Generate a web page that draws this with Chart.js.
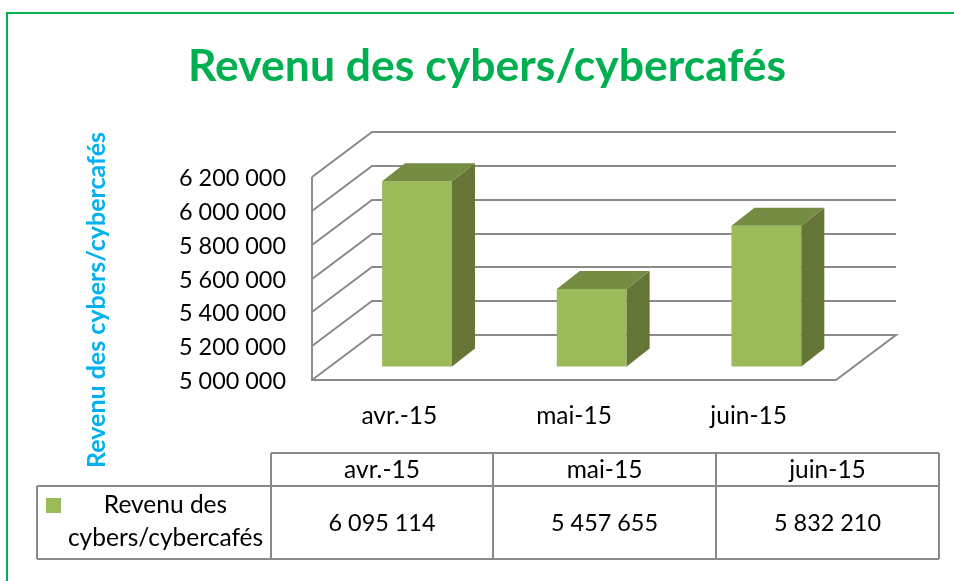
<!DOCTYPE html>
<html lang="fr">
<head>
<meta charset="utf-8">
<title>Revenu des cybers/cybercafés</title>
<script src="https://cdn.jsdelivr.net/npm/chart.js@4"></script>
<style>
  html, body { margin: 0; padding: 0; background: #fff; overflow: hidden; }
  #wrap { width: 954px; height: 581px; }
</style>
</head>
<body>
<div id="wrap"><canvas id="chart" width="954" height="581"></canvas></div>
<script>
// Data
const titleText = "Revenu des cybers/cybercafés";
const seriesName = ["Revenu des", "cybers/cybercafés"];
const categories = ["avr.-15", "mai-15", "juin-15"];
const revenue = [6095114, 5457655, 5832210];
const revenueLabels = ["6 095 114", "5 457 655", "5 832 210"];
const tickValues = [5000000, 5200000, 5400000, 5600000, 5800000, 6000000, 6200000];
const tickLabels = ["5 000 000", "5 200 000", "5 400 000", "5 600 000", "5 800 000", "6 000 000", "6 200 000"];

const FONT = "Lato, 'Noto Sans', sans-serif";
const GREEN = "#00B050";
const CYAN = "#00B0F0";
const GRID = "#8a8a8a";
const INK = "#000";
const BAR_FRONT = "#9BBB59";
const BAR_TOP = "#758D42";
const BAR_SIDE = "#647535";

// fake 3D: depth of the floor and of the bars
const WALL = { dx: 60, dy: -45 };
const BAR_SHIFT = { dx: 17.7, dy: -13.5 };
const BAR_DEPTH = { dx: 23, dy: -18 };

function poly(ctx, pts, color) {
  ctx.fillStyle = color;
  ctx.beginPath();
  pts.forEach((p, i) => i ? ctx.lineTo(p[0], p[1]) : ctx.moveTo(p[0], p[1]));
  ctx.closePath();
  ctx.fill();
}

function label(ctx, text, x, y, font, color) {
  ctx.font = font;
  ctx.fillStyle = color;
  ctx.textAlign = "center";
  ctx.textBaseline = "middle";
  ctx.fillText(text, x, y);
}

const box3d = {
  id: "box3d",
  beforeDatasetsDraw(chart) {
    const { ctx, chartArea: a, scales: { y } } = chart;
    ctx.save();
    ctx.strokeStyle = GRID;
    ctx.lineWidth = 2;
    tickValues.forEach(v => {
      const py = Math.round(y.getPixelForValue(v));
      ctx.beginPath();
      if (v === tickValues[0]) {
        ctx.moveTo(a.left, py);
        ctx.lineTo(a.right, py);
        ctx.lineTo(a.right + WALL.dx, py + WALL.dy);
        ctx.lineTo(a.left + WALL.dx, py + WALL.dy);
      } else {
        ctx.moveTo(a.right + WALL.dx, py + WALL.dy);
        ctx.lineTo(a.left + WALL.dx, py + WALL.dy);
      }
      ctx.lineTo(a.left, py);
      ctx.stroke();
    });
    ctx.beginPath();
    ctx.moveTo(a.left, a.bottom + 1);
    ctx.lineTo(a.left, a.top);
    ctx.stroke();
    ctx.restore();
    // the real bars are drawn shifted back onto the floor
    ctx.save();
    ctx.translate(BAR_SHIFT.dx, BAR_SHIFT.dy);
  },
  afterDatasetsDraw(chart) {
    const { ctx } = chart;
    chart.getDatasetMeta(0).data.forEach(bar => {
      const l = bar.x - bar.width / 2, r = bar.x + bar.width / 2, t = bar.y, b = bar.base;
      const d = BAR_DEPTH;
      poly(ctx, [[r, t], [r + d.dx, t + d.dy], [r + d.dx, b + d.dy], [r, b]], BAR_SIDE);
      poly(ctx, [[l, t], [l + d.dx, t + d.dy], [r + d.dx, t + d.dy], [r, t]], BAR_TOP);
    });
    ctx.restore();
  }
};

const decor = {
  id: "decor",
  afterDraw(chart) {
    const { ctx } = chart;
    ctx.save();
    // green frame, only left and top are visible
    ctx.strokeStyle = GREEN;
    ctx.lineWidth = 2;
    ctx.beginPath();
    ctx.moveTo(7, 581);
    ctx.lineTo(7, 13);
    ctx.lineTo(954, 13);
    ctx.stroke();

    label(ctx, titleText, 487, 67, "bold 44.5px " + FONT, GREEN);

    ctx.save();
    ctx.translate(97, 300);
    ctx.rotate(-Math.PI / 2);
    label(ctx, titleText, 0, 0, "bold 25px " + FONT, CYAN);
    ctx.restore();

    // data table
    const cols = [271, 493, 716, 939];
    ctx.strokeStyle = GRID;
    ctx.lineWidth = 2;
    ctx.beginPath();
    ctx.moveTo(271, 453); ctx.lineTo(939, 453);
    ctx.moveTo(37, 486); ctx.lineTo(939, 486);
    ctx.moveTo(37, 559); ctx.lineTo(939, 559);
    ctx.moveTo(37, 486); ctx.lineTo(37, 559);
    cols.forEach(x => { ctx.moveTo(x, 453); ctx.lineTo(x, 559); });
    ctx.stroke();

    const textFont = "24.5px " + FONT;
    const numFont = "23.4px " + FONT;
    categories.forEach((c, i) => {
      const cx = (cols[i] + cols[i + 1]) / 2;
      label(ctx, c, cx, 470, textFont, INK);
      label(ctx, revenueLabels[i], cx, 523, numFont, INK);
    });
    ctx.fillStyle = BAR_FRONT;
    ctx.fillRect(46, 498, 15, 15);
    label(ctx, seriesName[0], 165.5, 505, textFont, INK);
    label(ctx, seriesName[1], 165.5, 538, textFont, INK);
    ctx.restore();
  }
};

new Chart(document.getElementById("chart"), {
  type: "bar",
  data: {
    labels: categories,
    datasets: [{
      label: seriesName.join(" "),
      data: revenue,
      base: tickValues[0],
      backgroundColor: BAR_FRONT,
      barPercentage: 0.4,
      categoryPercentage: 1,
      clip: false
    }]
  },
  options: {
    responsive: false,
    animation: false,
    layout: { padding: { top: 177, right: 118, left: 0, bottom: 0 } },
    plugins: { legend: { display: false }, tooltip: { enabled: false } },
    scales: {
      x: {
        grid: { display: false, drawTicks: false },
        border: { display: false },
        ticks: { color: INK, padding: 21, maxRotation: 0, font: { family: FONT, size: 24.5 } },
        afterFit(s) { s.height = 201; }
      },
      y: {
        min: tickValues[0],
        max: tickValues[tickValues.length - 1],
        afterBuildTicks(s) { s.ticks = tickValues.map(v => ({ value: v })); },
        grid: { display: false, drawTicks: false },
        border: { display: false },
        ticks: {
          color: INK,
          padding: 26,
          labelOffset: 1.5,
          font: { family: FONT, size: 23.4 },
          callback(v) { return tickLabels[tickValues.indexOf(v)]; }
        },
        afterFit(s) { s.width = 312; }
      }
    }
  },
  plugins: [box3d, decor]
});
</script>
</body>
</html>
